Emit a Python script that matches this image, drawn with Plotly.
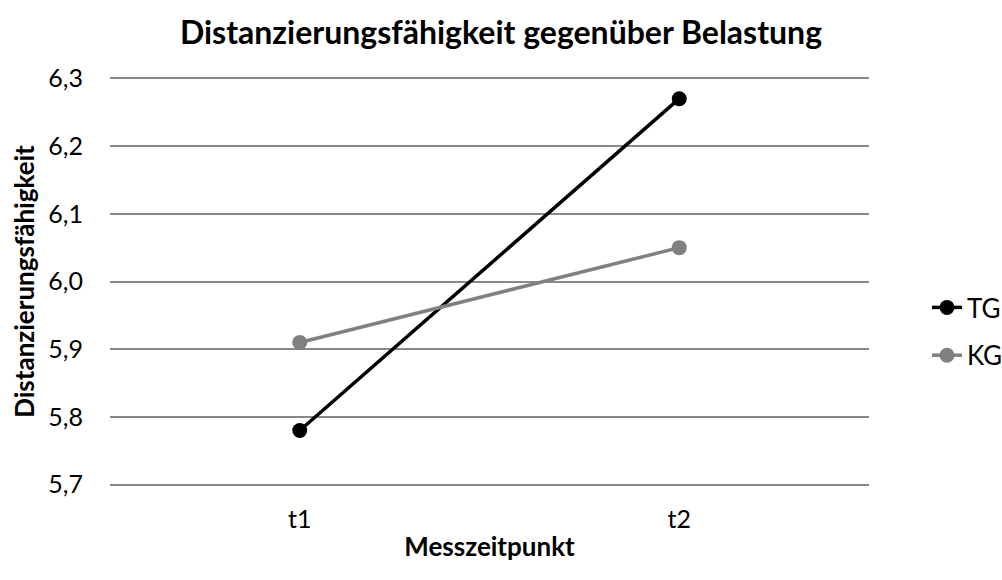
import plotly.graph_objects as go

categories = ["t1", "t2"]
tg_values = [5.78, 6.27]
kg_values = [5.91, 6.05]
series_names = ["TG", "KG"]
title_text = "Distanzierungsfähigkeit gegenüber Belastung"
x_title = "Messzeitpunkt"
y_title = "Distanzierungsfähigkeit"

FONT = "Lato, 'Open Sans', sans-serif"

fig = go.Figure()
fig.add_trace(go.Scatter(
    x=categories, y=tg_values, name=series_names[0], mode="lines+markers",
    legendgroup="tg",
    line=dict(color="#000000", width=3.5),
    marker=dict(color="#000000", size=15),
))
fig.add_trace(go.Scatter(
    x=categories, y=kg_values, name=series_names[1], mode="lines+markers",
    legendgroup="kg",
    line=dict(color="#808080", width=3.5),
    marker=dict(color="#808080", size=15),
))

Y0, Y1 = 5.6965, 6.3035
fig.update_layout(
    width=1002, height=580,
    separators=",.",
    paper_bgcolor="white", plot_bgcolor="white",
    margin=dict(l=110, r=133, t=76, b=93, autoexpand=False),
    title=dict(text="<b>" + title_text + "</b>", x=0.5, xanchor="center",
               y=1 - 33 / 580, yanchor="middle",
               font=dict(family=FONT, size=32, color="#000000")),
    font=dict(family=FONT, color="#000000"),
    showlegend=True,
    legend=dict(x=(927 - 110) / 759, xanchor="left", y=1 - (331.5 - 76) / 411,
                yanchor="middle",
                font=dict(family=FONT, size=26, color="#000000"),
                tracegroupgap=11, itemwidth=30, bgcolor="rgba(0,0,0,0)"),
    xaxis=dict(
        type="category", range=[-0.5, 1.5], automargin=False,
        showgrid=False, zeroline=False, showline=False,
        ticks="", ticklabelstandoff=15,
        tickfont=dict(family=FONT, size=25, color="#000000"),
        title=dict(text="<b>" + x_title + "</b>", standoff=5,
                   font=dict(family=FONT, size=26, color="#000000")),
    ),
    yaxis=dict(
        range=[Y0, Y1], dtick=0.1, tick0=5.7, tickformat=".1f",
        automargin=False,
        showgrid=True, gridcolor="#898989", gridwidth=1.5,
        zeroline=False, showline=False, ticks="",
        ticklabelstandoff=26,
        tickfont=dict(family=FONT, size=25, color="#000000"),
        title=dict(text="<b>" + y_title + "</b>", standoff=6,
                   font=dict(family=FONT, size=26, color="#000000")),
    ),
)

fig.write_html("out.html", config={"displayModeBar": False},
               post_script="document.body.style.margin='0';")
